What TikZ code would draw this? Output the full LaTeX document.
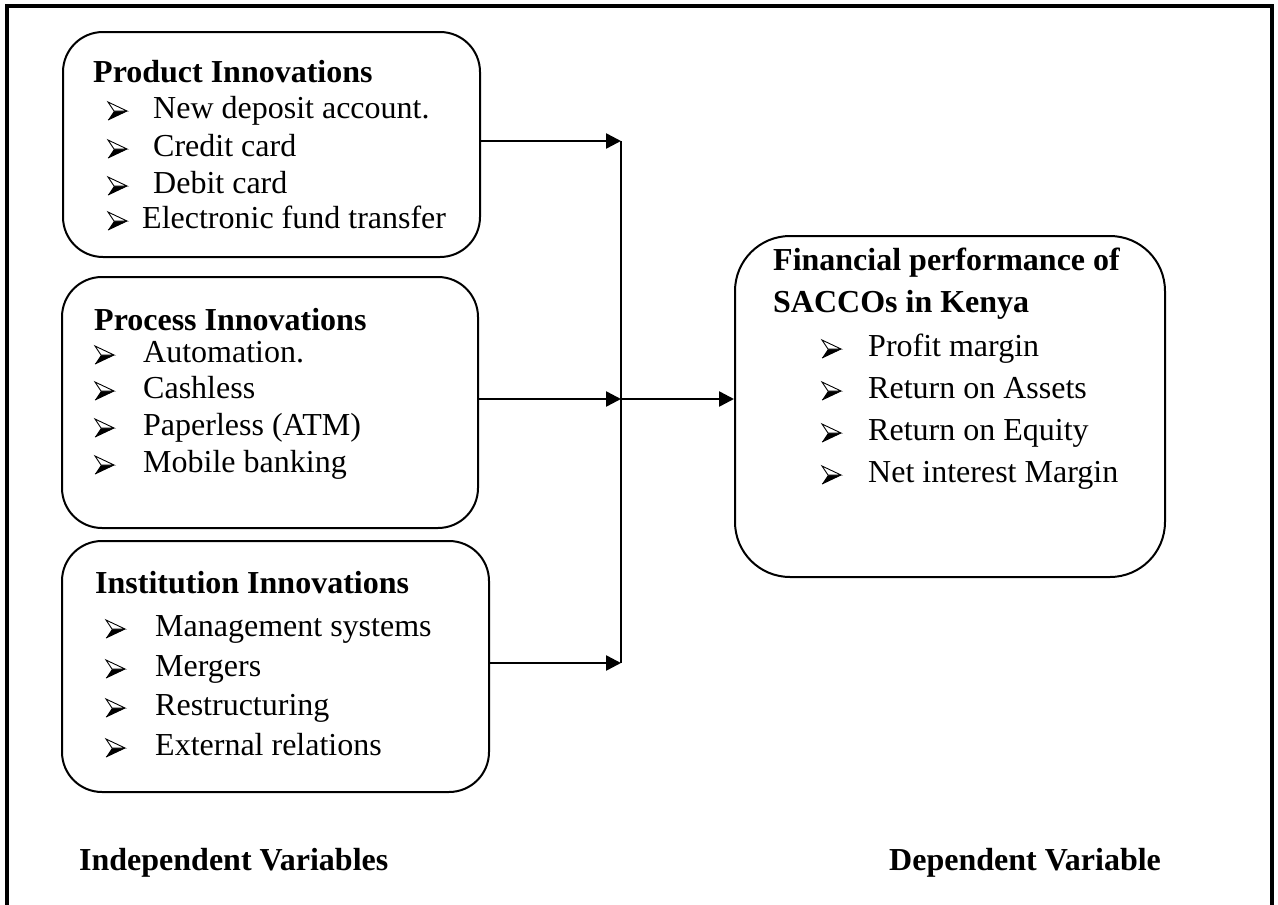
\documentclass[tikz,border=0pt]{standalone}
\usepackage{fontspec}
\setmainfont{Liberation Serif}
\usetikzlibrary{arrows.meta}
\begin{document}
\begin{tikzpicture}[x=1pt,y=-1pt,
  box/.style={draw, line width=2pt, rounded corners=40pt, inner sep=0pt},
  txt/.style={anchor=base west, inner sep=0pt, font=\fontsize{32}{38}\selectfont},
  hd/.style={anchor=base west, inner sep=0pt, font=\fontsize{32}{38}\selectfont\bfseries},
  arr/.style={line width=2.5pt, -{Triangle[length=15pt,width=15pt]}},
  ln/.style={line width=2.5pt},
  arrbul/.pic={
    \fill[black] (0,2) -- (19,-7) -- (6,-7) -- cycle;
    \draw[line width=0.9pt, line join=miter, fill=white] (0,-16) -- (19,-7) -- (6,-7) -- cycle;
    \draw[line width=0.9pt, line join=miter] (0,2) -- (19,-7);
  }]
\useasboundingbox (0,0) rectangle (1278,905);
% outer frame
\draw[line width=3.5pt] (7,915) -- (7,6) -- (1272,6) -- (1272,915);

% boxes
\node[box, minimum width=417pt, minimum height=225pt] (prod) at (271.5,144.5) {};
\node[box, minimum width=416pt, minimum height=251pt] (proc) at (270,402.5) {};
\node[box, minimum width=427pt, minimum height=251pt] (inst) at (275.5,666.5) {};
\node[box, rounded corners=55pt, minimum width=430pt, minimum height=341pt] (fin) at (950,406.5) {};

% product
\node[hd] (p0) at (93,82) {Product Innovations};
\pic at (108,118) {arrbul};
\node[txt] (p1) at (153,118) {New deposit account.};
\pic at (108,156) {arrbul};
\node[txt] (p2) at (153,156) {Credit card};
\pic at (108,193) {arrbul};
\node[txt] (p3) at (153,193) {Debit card};
\pic at (108,228) {arrbul};
\node[txt] (p4) at (142,228) {Electronic fund transfer};

% process
\node[hd] (r0) at (94,330) {Process Innovations};
\pic at (95,362) {arrbul};
\node[txt] (r1) at (143,362) {Automation.};
\pic at (95,398) {arrbul};
\node[txt] (r2) at (143,398) {Cashless};
\pic at (95,435) {arrbul};
\node[txt] (r3) at (143,435) {Paperless (ATM)};
\pic at (95,472) {arrbul};
\node[txt] (r4) at (143,472) {Mobile banking};

% institution
\node[hd] (i0) at (95,593) {Institution Innovations};
\pic at (106,636) {arrbul};
\node[txt] (i1) at (155,636) {Management systems};
\pic at (106,676) {arrbul};
\node[txt] (i2) at (155,676) {Mergers};
\pic at (106,715) {arrbul};
\node[txt] (i3) at (155,715) {Restructuring};
\pic at (106,755) {arrbul};
\node[txt] (i4) at (155,755) {External relations};

% financial
\node[hd] (f0) at (773,270) {Financial performance of};
\node[hd] (f00) at (773,312) {SACCOs in Kenya};
\pic at (822,356) {arrbul};
\node[txt] (f1) at (868,356) {Profit margin};
\pic at (822,398) {arrbul};
\node[txt] (f2) at (868,398) {Return on Assets};
\pic at (822,440) {arrbul};
\node[txt] (f3) at (868,440) {Return on Equity};
\pic at (822,482) {arrbul};
\node[txt] (f4) at (868,482) {Net interest Margin};

% bottom labels
\node[hd] (iv) at (79,870) {Independent Variables};
\node[hd] (dv) at (889,870) {Dependent Variable};

% connectors
\coordinate (j1) at (621,141);
\coordinate (j2) at (621,399);
\coordinate (j3) at (621,663);
\draw[arr] (prod.east |- j1) -- (j1);
\draw[arr] (proc.east |- j2) -- (j2);
\draw[arr] (inst.east |- j3) -- (j3);
\draw[ln] (j1) -- (j3);
\draw[arr] (j2) -- (fin.west |- j2);
\end{tikzpicture}
\end{document}
